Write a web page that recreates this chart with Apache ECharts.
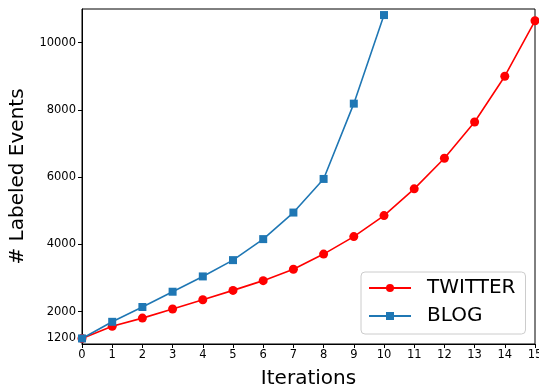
<!DOCTYPE html>
<html>
<head>
<meta charset="utf-8">
<script src="https://cdn.jsdelivr.net/npm/echarts@6/dist/echarts.min.js"></script>
<style>
  html, body { margin: 0; padding: 0; background: #fff; }
  #chart { width: 539px; height: 385px; }
</style>
</head>
<body>
<div id="chart"></div>
<script>
// iterations on the x axis
const iterations = [0, 1, 2, 3, 4, 5, 6, 7, 8, 9, 10, 11, 12, 13, 14, 15];
// labeled events per iteration
const twitter = [1200, 1560, 1805, 2075, 2350, 2630, 2920, 3260, 3710, 4230, 4855, 5650, 6560, 7640, 9000, 10650];
const blog = [1200, 1695, 2135, 2590, 3045, 3530, 4155, 4945, 5945, 8185, 10820];
const yTicks = [1200, 2000, 4000, 6000, 8000, 10000];

const chart = echarts.init(document.getElementById("chart"));
const fontFamily = "DejaVu Sans";

const option = {
  animation: false,
  grid: {
    left: 82,
    right: 4,
    top: 9,
    bottom: 41,
    outerBoundsMode: "none",
    show: true,
    borderColor: "#000",
    borderWidth: 1,
  },
  legend: {
    orient: "vertical",
    left: 361,
    top: 272,
    itemWidth: 42,
    itemHeight: 10,
    itemGap: 8,
    padding: [6, 10, 8, 7],
    backgroundColor: "#fff",
    borderColor: "#ccc",
    borderWidth: 1,
    borderRadius: 4,
    textStyle: { fontFamily, fontSize: 20, color: "#000", padding: [0, 0, 0, 11] },
    data: ["TWITTER", "BLOG"],
  },
  xAxis: {
    type: "value",
    min: 0,
    max: 15,
    interval: 1,
    name: "Iterations",
    nameLocation: "middle",
    nameGap: 25,
    nameTextStyle: { fontFamily, fontSize: 20, color: "#000" },
    axisLine: { lineStyle: { color: "#000" } },
    axisTick: { show: true, length: 4, lineStyle: { color: "#000" } },
    axisLabel: { fontFamily, fontSize: 11.5, color: "#000", margin: 5 },
    splitLine: { show: false },
  },
  yAxis: {
    type: "value",
    min: 1035,
    max: 11000,
    name: "# Labeled Events",
    nameLocation: "middle",
    nameGap: 54,
    nameTextStyle: { fontFamily, fontSize: 20, color: "#000" },
    axisLine: { show: true, lineStyle: { color: "#000" } },
    axisTick: { show: true, length: 4, customValues: yTicks, lineStyle: { color: "#000" } },
    axisLabel: {
      fontFamily,
      fontSize: 11.5,
      color: "#000",
      margin: 6,
      customValues: yTicks,
      formatter: (v) => String(v),
    },
    splitLine: { show: false },
  },
  series: [
    {
      name: "TWITTER",
      type: "line",
      data: twitter.map((v, i) => [iterations[i], v]),
      symbol: "circle",
      symbolSize: 9,
      color: "#ff0000",
      lineStyle: { width: 1.6, color: "#ff0000" },
      itemStyle: { color: "#ff0000" },
    },
    {
      name: "BLOG",
      type: "line",
      data: blog.map((v, i) => [iterations[i], v]),
      symbol: "rect",
      symbolSize: 8,
      color: "#1f77b4",
      lineStyle: { width: 1.6, color: "#1f77b4" },
      itemStyle: { color: "#1f77b4" },
    },
  ],
};

chart.setOption(option);
</script>
</body>
</html>
